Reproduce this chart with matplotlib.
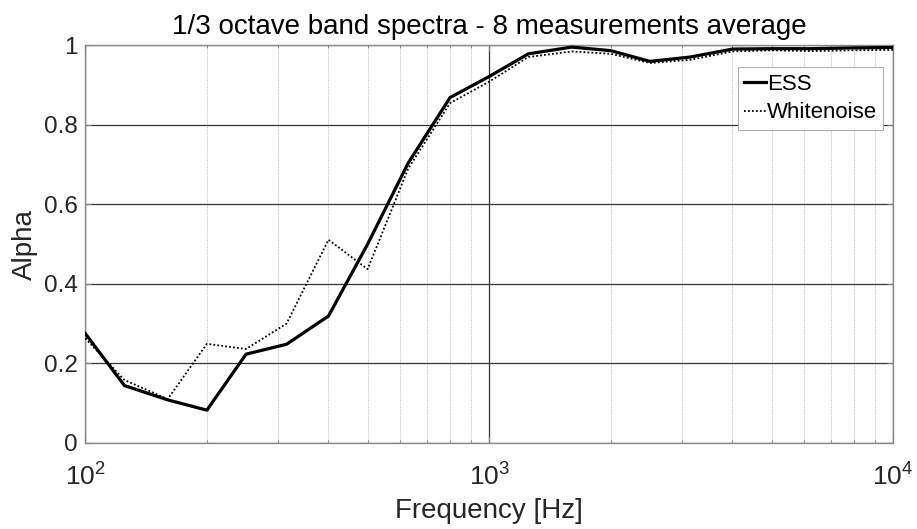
import math
import matplotlib
matplotlib.use("Agg")
import matplotlib.pyplot as plt
from matplotlib.ticker import FixedLocator, FuncFormatter, LogLocator, NullFormatter

plt.rcParams['font.family'] = ['Liberation Sans', 'DejaVu Sans']
plt.rcParams['mathtext.fontset'] = 'custom'
plt.rcParams['mathtext.rm'] = 'Liberation Sans'
plt.rcParams['mathtext.it'] = 'Liberation Sans'

freqs = [100, 125, 160, 200, 250, 315, 400, 500, 630, 800, 1000, 1250, 1600,
         2000, 2500, 3150, 4000, 5000, 6300, 8000, 10000]
ess = [0.275, 0.144, 0.108, 0.082, 0.223, 0.248, 0.319, 0.50, 0.704, 0.869,
       0.922, 0.979, 0.996, 0.987, 0.960, 0.971, 0.991, 0.992, 0.992, 0.994, 0.995]
whitenoise = [0.263, 0.158, 0.110, 0.249, 0.236, 0.300, 0.511, 0.437, 0.690, 0.855,
              0.909, 0.971, 0.985, 0.979, 0.956, 0.964, 0.985, 0.988, 0.986, 0.988, 0.989]
y_ticks = [0, 0.2, 0.4, 0.6, 0.8, 1]
y_tick_labels = ['0', '0.2', '0.4', '0.6', '0.8', '1']
x_ticks = [100, 1000, 10000]

fig = plt.figure(figsize=(9.17, 5.29), dpi=100)
ax = fig.add_axes([0.093, 0.163, 0.881, 0.751])

ax.plot(freqs, ess, color='black', lw=2.3, label='ESS', zorder=3)
ax.plot(freqs, whitenoise, color='black', lw=1.3, ls=(0, (1, 1.2)), label='Whitenoise', zorder=3)

ax.set_xscale('log')
ax.set_xlim(100, 10000)
ax.set_ylim(0, 1)
ax.set_yticks(y_ticks)
ax.set_yticklabels(y_tick_labels)
ax.xaxis.set_major_locator(FixedLocator(x_ticks))
ax.xaxis.set_major_formatter(FuncFormatter(lambda v, p: r'$10^{%d}$' % round(math.log10(v))))
ax.xaxis.set_minor_locator(LogLocator(base=10, subs=range(2, 10)))
ax.xaxis.set_minor_formatter(NullFormatter())

ax.grid(True, which='major', color='#333333', lw=0.9, ls='-')
ax.grid(True, which='minor', axis='x', color='#c4c4c4', lw=0.8, ls=(0, (1, 1)))
ax.set_axisbelow(True)

ax.tick_params(axis='both', which='both', direction='in', colors='#808080', top=True, right=True)
ax.tick_params(axis='y', which='major', length=4, width=0.8, pad=5.5, labelsize=17.5, labelcolor='#262626')
ax.tick_params(axis='x', which='major', length=4, width=0.8, pad=15, labelsize=19, labelcolor='#262626')
ax.tick_params(axis='x', which='minor', length=2.5, width=0.6)
for s in ax.spines.values():
    s.set_color('#8a8a8a')
    s.set_linewidth(1.0)

ax.set_xlabel('Frequency [Hz]', fontsize=20, color='#262626', labelpad=5)
ax.set_ylabel('Alpha', fontsize=20, color='#262626', labelpad=4)
ax.set_title('1/3 octave band spectra - 8 measurements average', fontsize=20, color='black', pad=8)

leg = ax.legend(loc='upper right', bbox_to_anchor=(0.988, 0.945), fontsize=16,
                handlelength=0.95, handletextpad=0.05, borderpad=0.3, labelspacing=0.33,
                borderaxespad=0, fancybox=False, framealpha=1, edgecolor='#b0b0b0')
leg.get_frame().set_linewidth(0.8)

fig.savefig('out.png', dpi=100)
